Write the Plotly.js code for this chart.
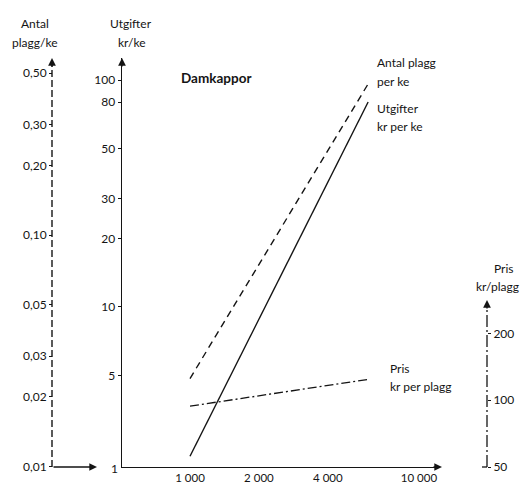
<!DOCTYPE html>
<html>
<head>
<meta charset="utf-8">
<script src="https://cdn.plot.ly/plotly-3.0.1.min.js"></script>
<style>html,body{margin:0;padding:0;background:#fff;}#chart{width:524px;height:483px;}</style>
</head>
<body>
<div id="chart"></div>
<script>
// ---- data ----
const incomeX = [1000, 6000];            // inkomst (log x)
const antalPlagg = [0.024, 0.45];        // Antal plagg per ke
const utgifter = [2.2, 80];              // Utgifter kr per ke
const pris = [94, 124];                  // Pris kr per plagg

const xTickVals = [1000, 2000, 4000, 10000];
const xTickText = ['1 000', '2 000', '4 000', '10 000'];
const antalTickVals = [0.01, 0.02, 0.03, 0.05, 0.10, 0.20, 0.30, 0.50];
const antalTickText = ['0,01', '0,02', '0,03', '0,05', '0,10', '0,20', '0,30', '0,50'];
const utgTickVals = [5, 10, 20, 30, 50, 80, 100];
const utgTickText = ['5', '10', '20', '30', '50', '80', '100'];
const prisTickVals = [50, 100, 200];
const prisTickText = ['50', '100', '200'];

// ---- layout geometry ----
const M = {l: 52, r: 37, t: 58, b: 16};
const PW = 524 - M.l - M.r, PH = 483 - M.t - M.b;
const px = v => (v - M.l) / PW;
const py = v => (483 - M.b - v) / PH;
const FONT = 'Lato, "Open Sans", sans-serif';
const INK = '#141414';

const traces = [
  {x: incomeX, y: antalPlagg, yaxis: 'y2', mode: 'lines', line: {color: INK, width: 1.4, dash: '7px,5px'}, hoverinfo: 'skip'},
  {x: incomeX, y: utgifter, yaxis: 'y', mode: 'lines', line: {color: INK, width: 1.4}, hoverinfo: 'skip'},
  {x: incomeX, y: pris, yaxis: 'y3', mode: 'lines', line: {color: INK, width: 1.3, dash: '9px,3px,2px,3px'}, hoverinfo: 'skip'}
];

function txt(t, x, y, opts) {
  return Object.assign({text: t, xref: 'paper', yref: 'paper', x: px(x), y: py(y), showarrow: false,
    font: {family: FONT, size: 12, color: INK}, xanchor: 'center', yanchor: 'middle'}, opts || {});
}
function arrow(hx, hy, ax, ay) {
  return {text: '', xref: 'paper', yref: 'paper', x: px(hx), y: py(hy), ax: ax, ay: ay, axref: 'pixel', ayref: 'pixel',
    showarrow: true, arrowhead: 2, arrowsize: 1.1, arrowwidth: 1.4, arrowcolor: INK};
}

const annotations = [
  txt('Antal', 35, 23), txt('plagg/ke', 35, 42),
  txt('Utgifter', 131, 23), txt('kr/ke', 131, 42),
  txt('<b>Damkappor</b>', 216, 78, {font: {family: FONT, size: 13.5, color: INK}}),
  txt('Antal plagg', 375, 62, {xanchor: 'left'}), txt('per ke', 375, 81, {xanchor: 'left'}),
  txt('Utgifter', 375, 108, {xanchor: 'left'}), txt('kr per ke', 375, 127, {xanchor: 'left'}),
  txt('Pris', 388, 368, {xanchor: 'left'}), txt('kr per plagg', 388, 386, {xanchor: 'left'}),
  txt('Pris', 504, 268), txt('kr/plagg', 497, 286),
  txt('1', 114, 468),
  arrow(52, 58, 0, 10),
  arrow(122, 58, 0, 10),
  arrow(487, 300, 0, 10),
  arrow(442, 467, -10, 0),
  arrow(97, 467, -45, 0)
];

const shapes = [
  {type: 'line', xref: 'paper', yref: 'paper', x0: px(52), x1: px(52), y0: py(467), y1: py(64), line: {color: INK, width: 1.4, dash: '7px,3px'}},
  {type: 'line', xref: 'paper', yref: 'paper', x0: px(487), x1: px(487), y0: py(467), y1: py(306), line: {color: INK, width: 1.3, dash: '12px,3px,2px,3px'}},
  {type: 'line', xref: 'paper', yref: 'paper', x0: px(482), x1: px(487), y0: py(467), y1: py(467), line: {color: INK, width: 1.3}}
];

const axFont = {family: FONT, size: 12, color: INK};
const layout = {
  width: 524, height: 483,
  margin: M,
  paper_bgcolor: '#fff', plot_bgcolor: 'rgba(0,0,0,0)',
  showlegend: false,
  font: {family: FONT, color: INK},
  xaxis: {
    type: 'log', domain: [px(122), px(440)], range: [2.703, 4.092], anchor: 'y',
    showline: true, linecolor: INK, linewidth: 1.4, showgrid: false, zeroline: false,
    tickvals: xTickVals, ticktext: xTickText, ticks: '', tickcolor: INK,
    tickfont: {family: FONT, size: 11.5, color: INK}
  },
  yaxis: {
    type: 'log', domain: [0, 1], range: [0.295, 2.097], anchor: 'x', side: 'left',
    showline: true, linecolor: INK, linewidth: 1.4, showgrid: false, zeroline: false,
    tickvals: utgTickVals, ticktext: utgTickText, ticks: 'outside', ticklen: 3, tickcolor: INK,
    tickfont: axFont
  },
  yaxis2: {
    type: 'log', overlaying: 'y', anchor: 'free', position: 0, side: 'left',
    range: [-2.002, -0.235], showline: false, showgrid: false, zeroline: false,
    tickvals: antalTickVals, ticktext: antalTickText, ticks: 'outside', ticklen: 3, tickcolor: INK,
    tickfont: axFont
  },
  yaxis3: {
    type: 'log', domain: [0, py(300)], anchor: 'free', position: 1, side: 'right',
    range: [1.699, 2.451], showline: false, showgrid: false, zeroline: false,
    tickvals: prisTickVals, ticktext: prisTickText, ticks: 'outside', ticklen: 3, tickcolor: INK,
    tickfont: axFont
  },
  annotations: annotations,
  shapes: shapes
};

Plotly.newPlot('chart', traces, layout, {staticPlot: true, displayModeBar: false});
</script>
</body>
</html>
